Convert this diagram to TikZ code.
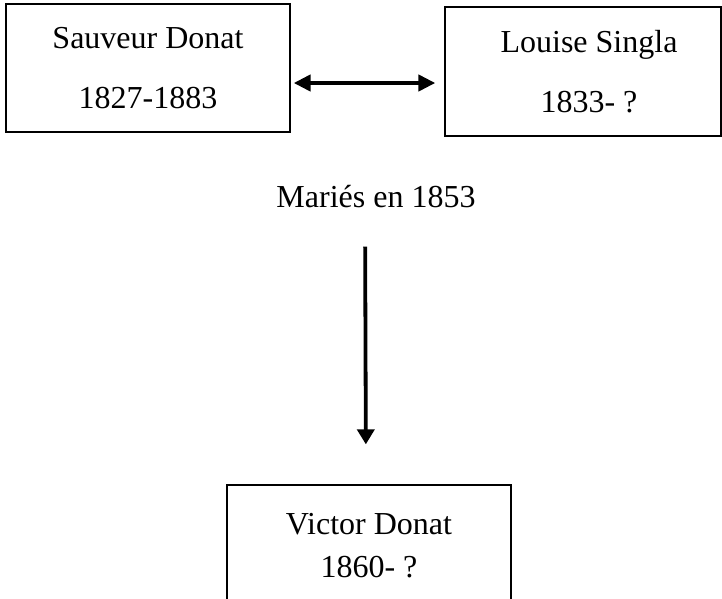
\documentclass[tikz,border=0pt]{standalone}
\usepackage{fontspec}
\setmainfont{Liberation Serif}
\usetikzlibrary{arrows.meta}

\begin{document}
\begin{tikzpicture}[
		x=1pt, y=-1pt,
		person/.style={draw, line width=1.3pt, align=center, inner sep=0pt, font=\fontsize{32}{60}\selectfont},
		marriage/.style={line width=4.5pt, {Triangle[length=17pt,width=16pt]}-{Triangle[length=17pt,width=16pt]}},
		child/.style={line width=3.8pt, -{Triangle[length=15pt,width=17pt]}}
	]
	\useasboundingbox (0,0) rectangle (722,598);

	% the parents
	\node[person, minimum width=284pt, minimum height=128pt] (sauveur) at (148,68) {Sauveur Donat\\1827-1883};
	\node[person, minimum width=276pt, minimum height=129pt] (louise) at (583,71.5) {\hspace{12pt}Louise Singla\\\hspace{12pt}1833- ?};

	% the marriage
	\draw[marriage, shorten <=3pt, shorten >=9pt] ([yshift=-15pt]sauveur.east) -- ([yshift=-11.5pt]louise.west);
	\node[inner sep=0pt, anchor=base, font=\fontsize{32}{38}\selectfont] (married) at (376,207) {Mariés en 1853};

	% the child
	\node[person, font=\fontsize{32}{43}\selectfont, minimum width=284pt, minimum height=121pt] (victor) at (369,545.5) {Victor Donat\\1860- ?};
	\draw[child, shorten <=39pt, shorten >=40pt] ([xshift=-11pt]married.south) -- ([xshift=-3pt]victor.north);

\end{tikzpicture}
\end{document}
